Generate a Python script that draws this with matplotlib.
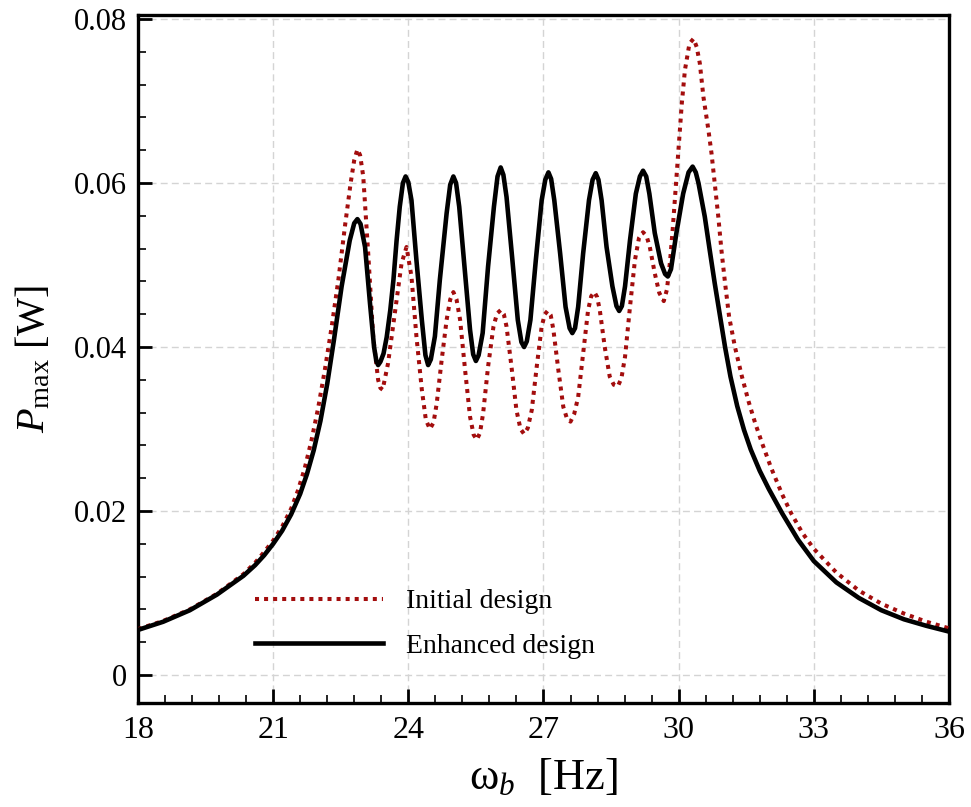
import matplotlib
matplotlib.use("Agg")
import matplotlib.pyplot as plt
from matplotlib.lines import Line2D

plt.rcParams['font.family'] = ['Liberation Serif', 'DejaVu Serif']
plt.rcParams['mathtext.fontset'] = 'custom'
plt.rcParams['mathtext.rm'] = 'Liberation Serif'
plt.rcParams['mathtext.it'] = 'Liberation Serif:italic'

# ---- data ----
freq_enhanced = [18.00, 18.56, 19.15, 19.75, 20.34, 20.60, 20.80, 21.00, 21.20, 21.40,
                 21.60, 21.75, 21.90, 22.05, 22.20, 22.35, 22.52, 22.70, 22.80, 22.87,
                 22.94, 23.04, 23.15, 23.24, 23.29, 23.33, 23.38, 23.45, 23.52, 23.60,
                 23.67, 23.74, 23.81, 23.88, 23.94, 24.00, 24.07, 24.18, 24.30, 24.38,
                 24.44, 24.50, 24.59, 24.70, 24.85, 24.93, 25.00, 25.06, 25.13, 25.26,
                 25.37, 25.44, 25.50, 25.56, 25.65, 25.77, 25.90, 25.98, 26.05, 26.11,
                 26.18, 26.31, 26.43, 26.51, 26.57, 26.63, 26.71, 26.83, 26.96, 27.04,
                 27.11, 27.17, 27.24, 27.37, 27.49, 27.58, 27.64, 27.70, 27.77, 27.88,
                 28.01, 28.09, 28.16, 28.22, 28.29, 28.40, 28.53, 28.62, 28.68, 28.74,
                 28.81, 28.92, 29.05, 29.14, 29.21, 29.28, 29.35, 29.47, 29.61, 29.70,
                 29.76, 29.83, 29.95, 30.10, 30.22, 30.31, 30.38, 30.44, 30.58, 30.69,
                 30.80, 30.92, 31.03, 31.15, 31.30, 31.45, 31.60, 31.80, 32.00, 32.30,
                 32.65, 33.00, 33.50, 34.00, 34.50, 35.00, 35.50, 36.00]
power_enhanced = [0.0055, 0.0065, 0.0079, 0.0098, 0.0121, 0.0134, 0.0146, 0.0160, 0.0176, 0.0196,
                  0.0221, 0.0245, 0.0274, 0.0310, 0.0355, 0.0409, 0.0474, 0.0530, 0.0551, 0.0556,
                  0.0550, 0.0522, 0.0453, 0.0400, 0.0383, 0.0378, 0.0382, 0.0392, 0.0412, 0.0445,
                  0.0482, 0.0530, 0.0571, 0.0600, 0.0608, 0.0601, 0.0579, 0.0506, 0.0433, 0.0390,
                  0.0378, 0.0385, 0.0413, 0.0482, 0.0563, 0.0598, 0.0608, 0.0600, 0.0571, 0.0490,
                  0.0421, 0.0391, 0.0383, 0.0390, 0.0417, 0.0498, 0.0571, 0.0608, 0.0619, 0.0610,
                  0.0583, 0.0506, 0.0433, 0.0406, 0.0400, 0.0407, 0.0433, 0.0506, 0.0579, 0.0604,
                  0.0613, 0.0605, 0.0579, 0.0514, 0.0449, 0.0423, 0.0417, 0.0423, 0.0449, 0.0514,
                  0.0579, 0.0604, 0.0612, 0.0604, 0.0579, 0.0522, 0.0474, 0.0450, 0.0444, 0.0450,
                  0.0474, 0.0530, 0.0587, 0.0608, 0.0615, 0.0608, 0.0587, 0.0539, 0.0502, 0.0489,
                  0.0486, 0.0495, 0.0539, 0.0587, 0.0613, 0.0620, 0.0613, 0.0600, 0.0559, 0.0518,
                  0.0478, 0.0437, 0.0400, 0.0364, 0.0328, 0.0299, 0.0275, 0.0249, 0.0227, 0.0197,
                  0.0165, 0.0139, 0.0113, 0.0094, 0.0079, 0.0068, 0.0060, 0.0053]

freq_initial = [18.00, 18.56, 19.15, 19.75, 20.34, 20.60, 20.80, 21.00, 21.20, 21.40,
                21.55, 21.70, 21.85, 22.00, 22.15, 22.30, 22.45, 22.60, 22.72, 22.80,
                22.87, 22.93, 23.00, 23.11, 23.22, 23.33, 23.38, 23.43, 23.55, 23.70,
                23.85, 23.96, 24.07, 24.18, 24.30, 24.39, 24.48, 24.56, 24.63, 24.74,
                24.85, 24.93, 25.00, 25.07, 25.15, 25.26, 25.37, 25.45, 25.52, 25.59,
                25.66, 25.77, 25.89, 25.97, 26.05, 26.12, 26.18, 26.29, 26.40, 26.49,
                26.57, 26.65, 26.74, 26.85, 26.96, 27.03, 27.09, 27.16, 27.22, 27.33,
                27.44, 27.52, 27.60, 27.68, 27.77, 27.88, 27.99, 28.06, 28.13, 28.19,
                28.25, 28.36, 28.47, 28.56, 28.65, 28.73, 28.81, 28.92, 29.03, 29.12,
                29.21, 29.29, 29.36, 29.47, 29.57, 29.67, 29.74, 29.81, 29.87, 29.93,
                29.99, 30.07, 30.14, 30.24, 30.33, 30.40, 30.47, 30.55, 30.66, 30.73,
                30.80, 30.88, 30.95, 31.03, 31.12, 31.25, 31.40, 31.55, 31.70, 31.85,
                32.05, 32.30, 32.50, 32.75, 33.00, 33.50, 34.00, 34.50, 35.00, 35.50,
                36.00]
power_initial = [0.0056, 0.0066, 0.0080, 0.0099, 0.0123, 0.0137, 0.0150, 0.0164, 0.0181, 0.0203,
                 0.0225, 0.0252, 0.0286, 0.0326, 0.0373, 0.0425, 0.0483, 0.0550, 0.0600, 0.0628,
                 0.0641, 0.0634, 0.0608, 0.0514, 0.0413, 0.0360, 0.0350, 0.0348, 0.0380, 0.0441,
                 0.0502, 0.0522, 0.0486, 0.0413, 0.0348, 0.0311, 0.0300, 0.0308, 0.0331, 0.0384,
                 0.0433, 0.0458, 0.0467, 0.0458, 0.0433, 0.0372, 0.0315, 0.0293, 0.0287, 0.0295,
                 0.0319, 0.0376, 0.0425, 0.0441, 0.0445, 0.0440, 0.0425, 0.0376, 0.0323, 0.0300,
                 0.0294, 0.0301, 0.0323, 0.0376, 0.0425, 0.0440, 0.0444, 0.0439, 0.0421, 0.0372,
                 0.0327, 0.0313, 0.0309, 0.0318, 0.0339, 0.0392, 0.0445, 0.0462, 0.0467, 0.0461,
                 0.0445, 0.0400, 0.0364, 0.0354, 0.0352, 0.0362, 0.0388, 0.0449, 0.0506, 0.0533,
                 0.0540, 0.0535, 0.0522, 0.0490, 0.0466, 0.0456, 0.0470, 0.0505, 0.0545, 0.0590,
                 0.0636, 0.0697, 0.0738, 0.0770, 0.0776, 0.0766, 0.0746, 0.0705, 0.0665, 0.0636,
                 0.0600, 0.0559, 0.0518, 0.0478, 0.0437, 0.0400, 0.0365, 0.0334, 0.0307, 0.0283,
                 0.0253, 0.0220, 0.0197, 0.0173, 0.0154, 0.0125, 0.0103, 0.0087, 0.0075, 0.0065,
                 0.0057]

x_ticks = [18, 21, 24, 27, 30, 33, 36]
x_tick_labels = ["18", "21", "24", "27", "30", "33", "36"]
y_ticks = [0, 0.02, 0.04, 0.06, 0.08]
y_tick_labels = ["0", "0.02", "0.04", "0.06", "0.08"]
legend_labels = ["Initial design", "Enhanced design"]

RED = '#A30D0D'
dot_style = (0, (1, 1.25))

fig = plt.figure(figsize=(9.71, 8.07), dpi=100)
ax = fig.add_axes([0.1421, 0.12887, 0.83522, 0.85254])

ax.plot(freq_initial, power_initial, color=RED, lw=2.9, linestyle=dot_style, zorder=3)
ax.plot(freq_enhanced, power_enhanced, color='black', lw=3.3, solid_joinstyle='round', zorder=4)

ax.set_xlim(18, 36)
ax.set_ylim(-0.00341, 0.08049)

ax.set_xticks(x_ticks)
ax.set_xticklabels(x_tick_labels)
ax.set_yticks(y_ticks)
ax.set_yticklabels(y_tick_labels)
ax.set_xticks([v for v in [18 + 0.6 * i for i in range(31)] if all(abs(v - t) > 1e-6 for t in x_ticks)], minor=True)
ax.set_yticks([0.004 * i for i in range(21) if i % 5 != 0], minor=True)

ax.tick_params(which='major', direction='in', length=10, width=2, top=False, right=False)
ax.tick_params(which='minor', direction='in', length=5.5, width=1.2, top=False, right=False)
ax.tick_params(axis='y', which='major', labelsize=22, pad=8)
ax.tick_params(axis='x', which='major', labelsize=23, pad=9)

for s in ax.spines.values():
    s.set_linewidth(2.4)

ax.grid(True, which='major', color='#d4d4d4', linestyle=(0, (5, 3)), linewidth=1.0, zorder=0)
ax.set_axisbelow(True)

ax.set_xlabel("ω$_{b}$  [Hz]", fontsize=32, labelpad=9)
ax.set_ylabel("$P_{\\mathrm{max}}$ [W]", fontsize=29, labelpad=15)

handles = [Line2D([], [], color=RED, lw=2.9, linestyle=dot_style),
           Line2D([], [], color='black', lw=3.3)]
ax.legend(handles, legend_labels, loc='upper left', bbox_to_anchor=(0.1443, 0.1657),
          frameon=False, fontsize=20, handlelength=4.6, handletextpad=0.85,
          labelspacing=0.69, borderpad=0, borderaxespad=0)

fig.savefig("out.png", dpi=100)
